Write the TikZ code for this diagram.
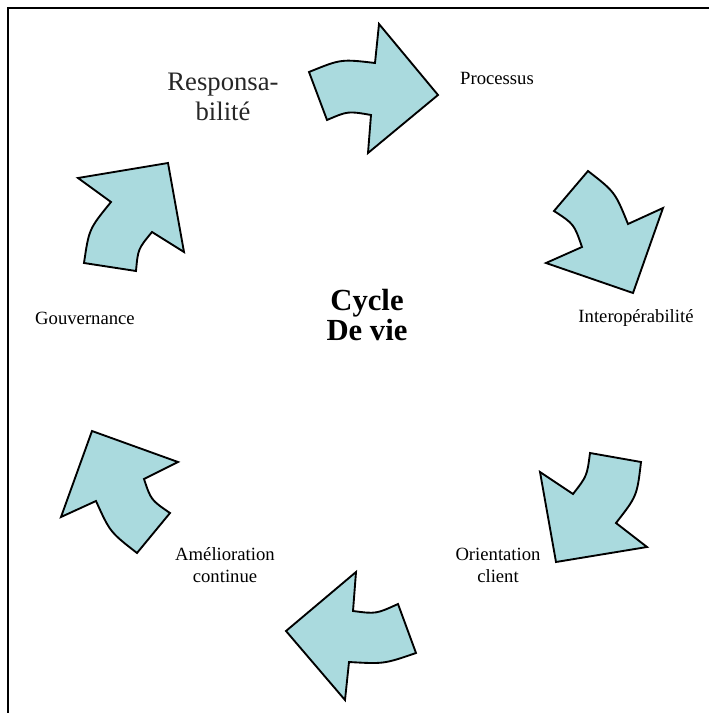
\documentclass[tikz,border=0pt]{standalone}
\usepackage{fontspec}
\setmainfont{Liberation Serif}
\definecolor{flecheteal}{RGB}{170,218,222}
\begin{document}
\begin{tikzpicture}[x=0.75pt,y=-0.75pt,
            fleche/.style={fill=flecheteal,draw=black,line width=1.4pt,line join=miter},
            etiquette/.style={font=\fontsize{14}{16.5}\selectfont,align=center,inner sep=0pt},
            grand/.style={font=\fontsize{20}{23}\selectfont,align=center,inner sep=0pt,text=black!85},
            centre/.style={font=\bfseries\fontsize{23}{22.5}\selectfont,align=center,inner sep=0pt}]
            \useasboundingbox (0,0) rectangle (709,713);
            \draw[line width=1.3pt] (8,713) -- (8,8) -- (709,8);
            \node[centre] (cycle) at (367,315) {Cycle\\De vie};
            \node[grand] (resp) at (223,97) {Responsa-\\bilité};
            \node[etiquette] (proc) at (497,78) {Processus};
            \node[etiquette] (interop) at (636,318) {Interopérabilité};
            \node[etiquette] (orient) at (498,565) {Orientation\\client};
            \node[etiquette] (amelio) at (225,565) {Amélioration\\continue};
            \node[etiquette] (gouv) at (85,318) {Gouvernance};
            \filldraw[fleche] (309,72) .. controls (341,59) .. (375,63) -- (379,24) -- (438,95)
              -- (368,153) -- (371,115) .. controls (348,111) .. (327,120) -- cycle;
            \filldraw[fleche] (588,171) .. controls (615,192) .. (628,224) -- (663,208) -- (633,293)
              -- (546,263) -- (582,247) .. controls (574,224) .. (554,211) -- cycle;
            \filldraw[fleche] (590,453) -- (641,462) .. controls (637,496) .. (616,523) -- (647,547)
              -- (556,562) -- (540,472) -- (573,494) .. controls (587,476) .. (590,453) -- cycle;
            \filldraw[fleche] (286,631) -- (356,572) -- (353,611) .. controls (376,614) .. (398,604)
              -- (416,653) .. controls (384,664) .. (349,662) -- (345,700) -- cycle;
            \filldraw[fleche] (92,431) -- (178,462) -- (144,479) .. controls (151,500) .. (170,513)
              -- (137,553) .. controls (110,532) .. (96,501) -- (61,517) -- cycle;
            \filldraw[fleche] (78,178) -- (168,163) -- (184,252) -- (152,232)
              .. controls (138,249) .. (136,271) -- (84,263) .. controls (89,229) .. (111,202) -- cycle;
        \end{tikzpicture}
\end{document}
